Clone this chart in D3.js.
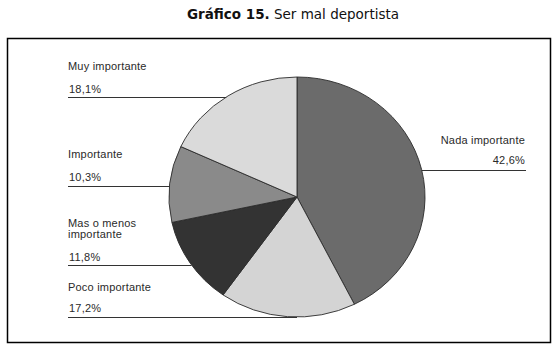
<!DOCTYPE html>
<html>
<head>
<meta charset="utf-8">
<script src="https://cdn.jsdelivr.net/npm/d3@7"></script>
<style>
	body { margin: 0; background: #fff; }
	svg { display: block; }
	.lbl { font-family: "Liberation Sans", Arial, sans-serif; font-size: 11px; letter-spacing: 0.2px; fill: #2a2a2a; }
</style>
</head>
<body>
<div id="chart"></div>
<script>
var windowW = 557;
var windowH = 352;

//////// Data
var categories = ["Nada importante", "Poco importante", "Mas o menos importante", "Importante", "Muy importante"];
var values = [42.6, 17.2, 11.8, 10.3, 18.1];
var valueLabels = ["42,6%", "17,2%", "11,8%", "10,3%", "18,1%"];
var sliceColors = ["#6b6b6b", "#d4d4d4", "#333333", "#8a8a8a", "#dadada"];

//////// Layout
var cx = 297, cy = 197, rx = 128, ry = 120;

// label text lines (name lines then value), y baselines, and y of leader line
var labelLayout = [
	{ side: "right", x: 525, names: [144], value: 164, line: 170, end: 526 },
	{ side: "left", x: 68, names: [291], value: 312, line: 317, end: 68 },
	{ side: "left", x: 68, names: [227, 238], value: 261, line: 265, end: 68 },
	{ side: "left", x: 68, names: [158], value: 181, line: 186, end: 68 },
	{ side: "left", x: 68, names: [70], value: 93, line: 97, end: 68 }
];

var nameLines = [["Nada importante"], ["Poco importante"], ["Mas o menos", "importante"], ["Importante"], ["Muy importante"]];

var svg = d3.select("#chart").append("svg")
	.attr("width", windowW)
	.attr("height", windowH);

//////// Title
var title = svg.append("text")
	.attr("x", 293)
	.attr("y", 19)
	.attr("text-anchor", "middle")
	.style("font-family", "'DejaVu Sans', Verdana, sans-serif")
	.style("font-size", "13.5px")
	.style("fill", "#111");
title.append("tspan").style("font-weight", "bold").text("Gráfico 15.");
title.append("tspan").text(" Ser mal deportista");

//////// Frame
svg.append("rect")
	.attr("x", 7.5)
	.attr("y", 38.5)
	.attr("width", 543)
	.attr("height", 304)
	.attr("fill", "none")
	.attr("stroke", "#000")
	.attr("stroke-width", 1.5);

//////// Pie
var pie = d3.pie().sort(null).value(function(d) { return d; });
var arc = d3.arc().innerRadius(0).outerRadius(ry);

var pieGroup = svg.append("g")
	.attr("transform", "translate(" + cx + "," + cy + ") scale(" + (rx / ry) + ",1)");

pieGroup.selectAll("path")
	.data(pie(values))
	.enter().append("path")
	.attr("d", arc)
	.attr("fill", function(d, i) { return sliceColors[i]; })
	.attr("stroke", "#2b2b2b")
	.attr("stroke-width", 0.9)
	.attr("vector-effect", "non-scaling-stroke");

//////// Labels

function edgeX(y, side) {
	var t = (y - cy) / ry;
	var k = Math.sqrt(Math.max(0, 1 - t * t));
	return side == "left" ? cx - rx * k : cx + rx * k;
}

categories.forEach(function(c, i) {
	var L = labelLayout[i];
	var anchor = L.side == "left" ? "start" : "end";

	nameLines[i].forEach(function(s, j) {
		svg.append("text")
			.attr("class", "lbl")
			.attr("x", L.x)
			.attr("y", L.names[j])
			.attr("text-anchor", anchor)
			.text(s);
	});

	svg.append("text")
		.attr("class", "lbl")
		.attr("x", L.side == "left" ? L.x + 1 : L.x)
		.attr("y", L.value)
		.attr("text-anchor", anchor)
		.text(valueLabels[i]);

	var xe = edgeX(L.line, L.side);
	svg.append("line")
		.attr("x1", L.end)
		.attr("x2", xe)
		.attr("y1", L.line + 0.5)
		.attr("y2", L.line + 0.5)
		.attr("stroke", "#333")
		.attr("stroke-width", 1);
});
</script>
</body>
</html>
